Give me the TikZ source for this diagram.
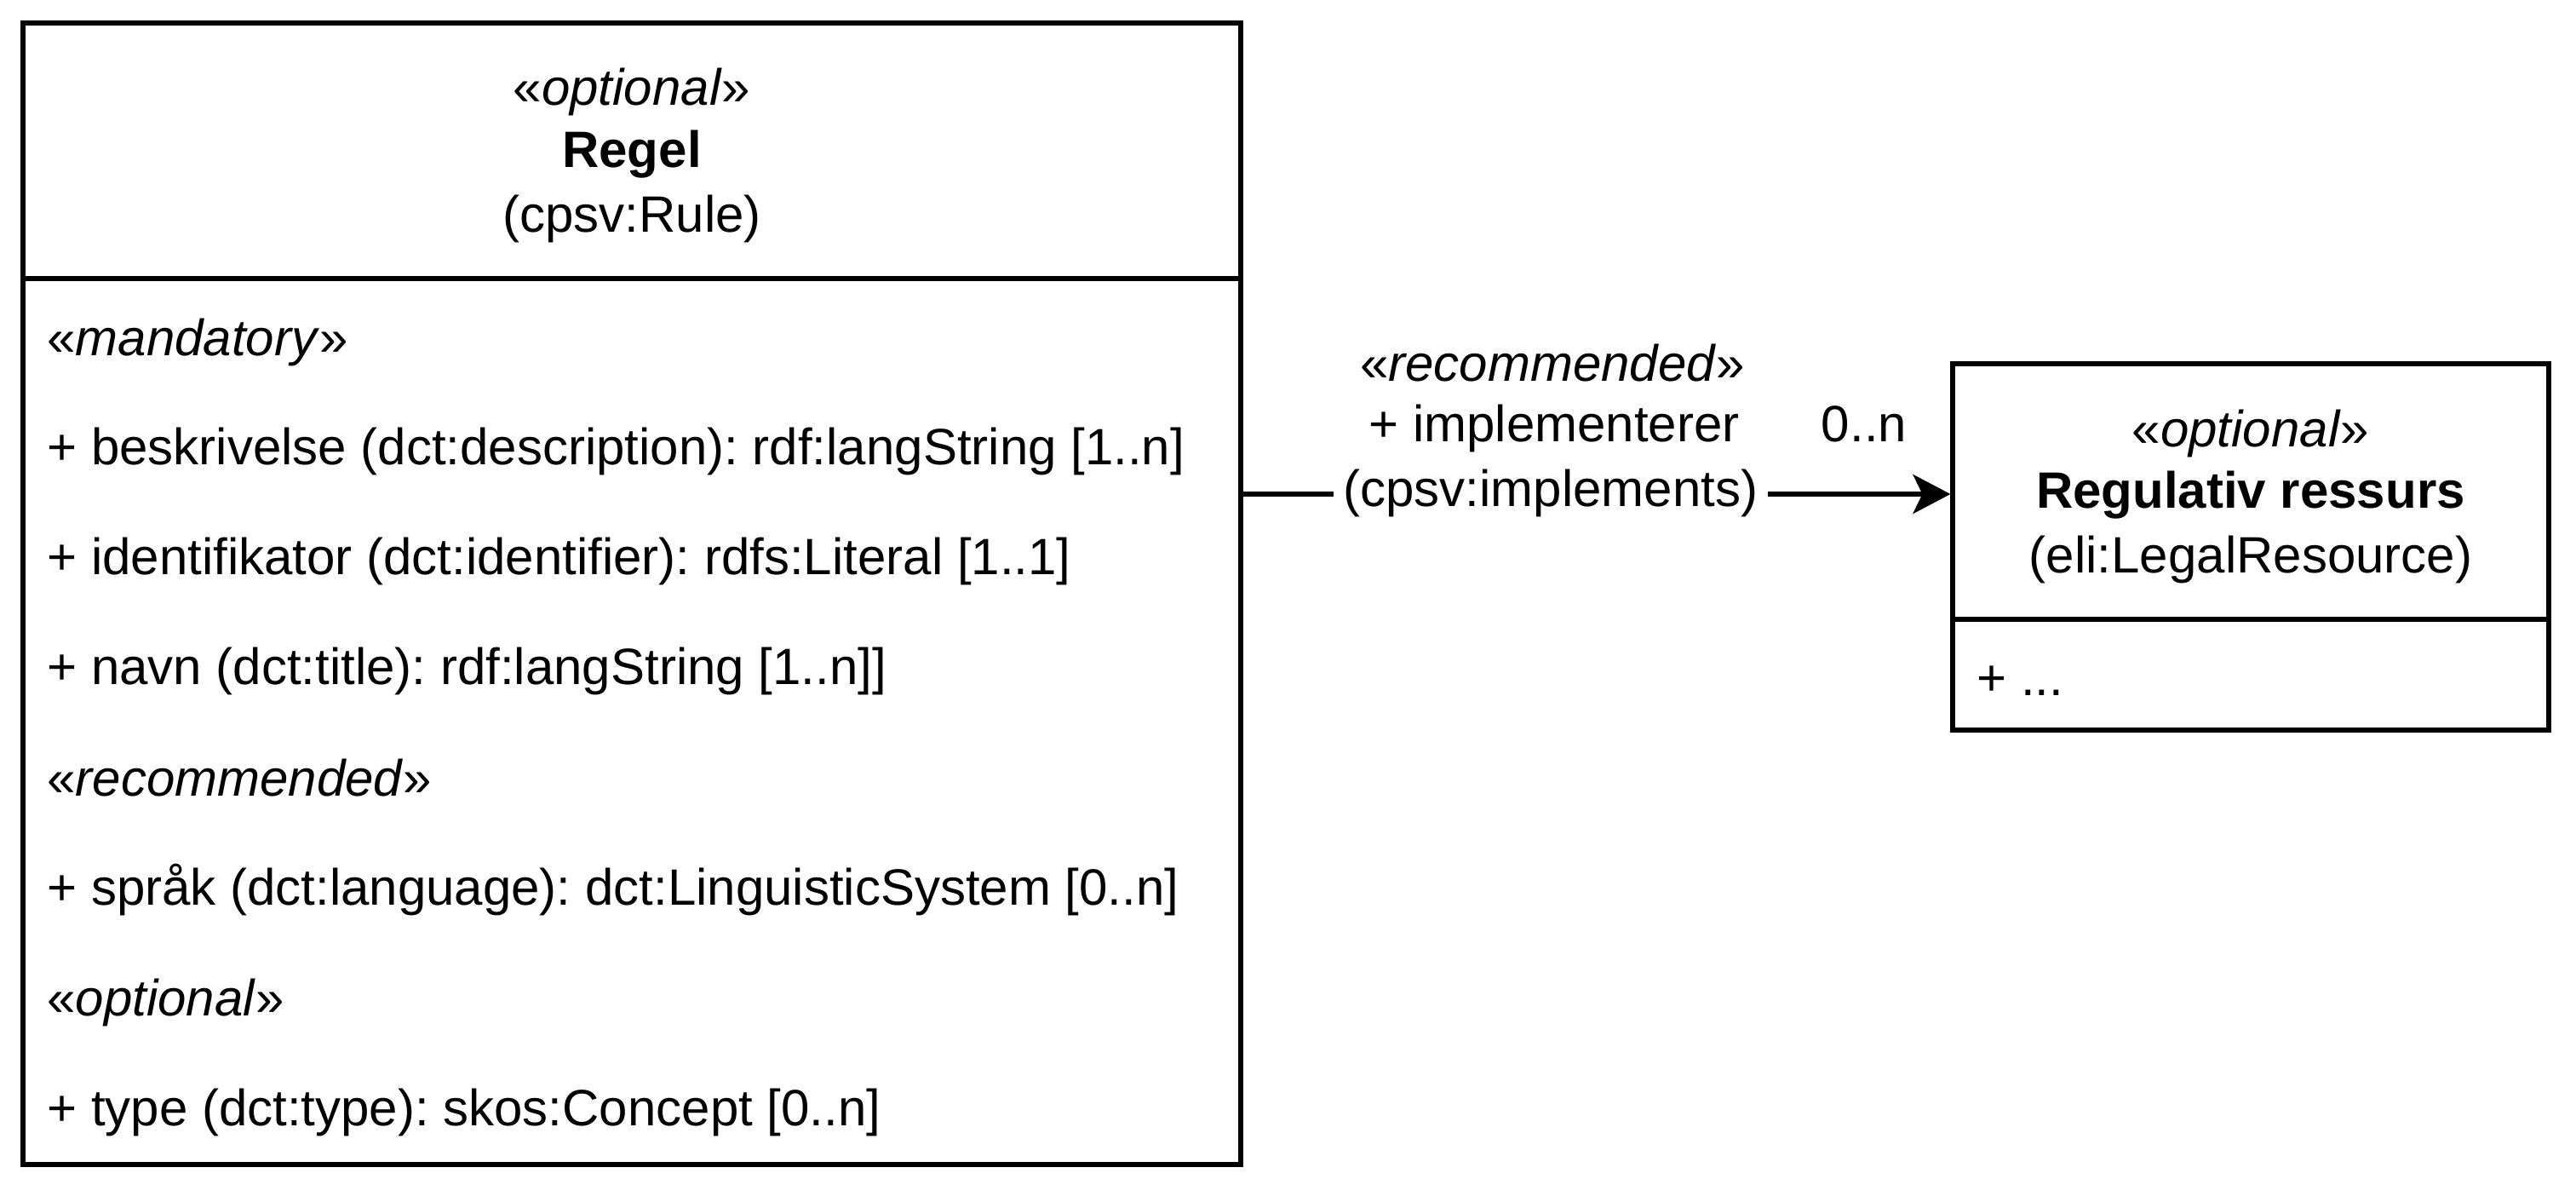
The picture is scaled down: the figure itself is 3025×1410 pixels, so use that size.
\documentclass[tikz,border=0pt]{standalone}
\usepackage{fontspec}
\setmainfont{Liberation Sans}
\usetikzlibrary{arrows.meta}
\frenchspacing
\begin{document}
\begin{tikzpicture}[x=0.5pt,y=-0.5pt,
  box/.style={draw,line width=2.6pt,rectangle,inner sep=0pt},
  txt/.style={inner sep=0pt,anchor=base,font=\fontsize{30}{36}\selectfont},
  ltxt/.style={txt,anchor=base west},
  conn/.style={line width=2.6pt,-{Stealth[length=22pt,width=23pt,inset=5.5pt]}}]
\useasboundingbox (0,0) rectangle (3025,1410);
% boxes
\node[box,minimum width=715pt,minimum height=670pt] (regel) at (742,697) {};
\node[box,minimum width=350pt,minimum height=215pt] (reg) at (2643,642) {};
\coordinate (d1) at (0,327);
\coordinate (d2) at (0,727);
\coordinate (ly) at (0,580);
\draw[line width=2.6pt] (regel.west |- d1) -- (regel.east |- d1);
\draw[line width=2.6pt] (reg.west |- d2) -- (reg.east |- d2);
% Regel header
\node[txt] (r1) at (742,123) {«\textit{optional}»};
\node[txt] (r2) at (742,196) {\textbf{Regel}};
\node[txt] (r3) at (742,272) {(cpsv:Rule)};
% Regel body
\node[ltxt] (a1) at (55,417) {«\textit{mandatory}»};
\node[ltxt] (a2) at (55,545) {+ beskrivelse (dct:description): rdf:langString [1..n]};
\node[ltxt] (a3) at (55,674) {+ identifikator (dct:identifier): rdfs:Literal [1..1]};
\node[ltxt] (a4) at (55,803) {+ navn (dct:title): rdf:langString [1..n]]};
\node[ltxt] (a5) at (55,934) {«\textit{recommended}»};
\node[ltxt] (a6) at (55,1062) {+ språk (dct:language): dct:LinguisticSystem [0..n]};
\node[ltxt] (a7) at (55,1192) {«\textit{optional}»};
\node[ltxt] (a8) at (55,1321) {+ type (dct:type): skos:Concept [0..n]};
% Regulativ ressurs
\node[txt] (g1) at (2643,524) {«\textit{optional}»};
\node[txt] (g2) at (2643,596) {\textbf{Regulativ ressurs}};
\node[txt] (g3) at (2643,672) {(eli:LegalResource)};
\node[ltxt] (g4) at (2321,816) {+ ...};
% connector
\draw[conn] (regel.east |- ly) -- node[pos=0.435,txt,fill=white,inner xsep=6pt,inner ysep=2pt,yshift=-7pt] (lbl) {(cpsv:implements)} (reg.west |- ly);
\node[txt] (c1) at (1823,447) {«\textit{recommended}»};
\node[txt] (c2) at (1825,518) {+ implementerer};
\node[txt] (c3) at (2189,518) {0..n};
\end{tikzpicture}
\end{document}
